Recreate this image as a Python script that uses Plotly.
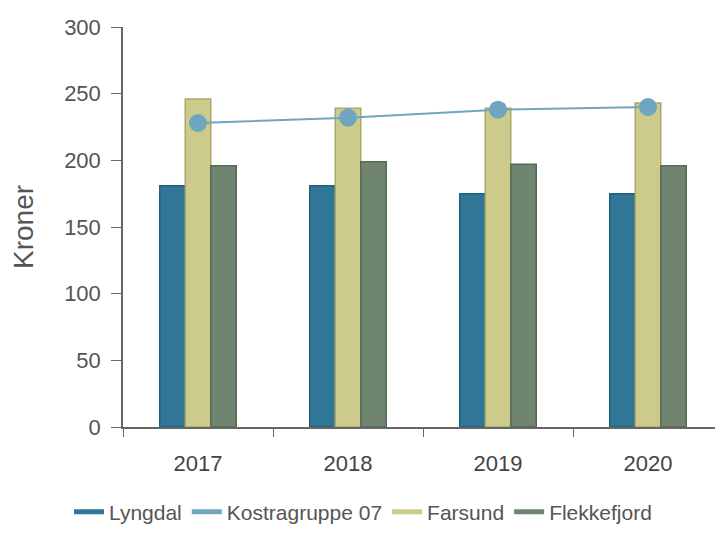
import plotly.graph_objects as go

years = ["2017", "2018", "2019", "2020"]
lyngdal = [181, 181, 175, 175]
farsund = [246, 239, 239, 243]
flekkefjord = [196, 199, 197, 196]
kostra = [228, 232, 238, 240]

c_lyng = "#2f7697"
c_kostra = "#6fa5c0"
c_fars = "#cccb8b"
c_flek = "#6f8570"

fig = go.Figure()
fig.add_trace(go.Bar(x=years, y=lyngdal, name="Lyngdal", marker=dict(color=c_lyng, line=dict(color="#23607d", width=1.5)), showlegend=False))
fig.add_trace(go.Bar(x=years, y=farsund, name="Farsund", marker=dict(color=c_fars, line=dict(color="#aaa868", width=1.5)), showlegend=False))
fig.add_trace(go.Bar(x=years, y=flekkefjord, name="Flekkefjord", marker=dict(color=c_flek, line=dict(color="#566a57", width=1.5)), showlegend=False))
fig.add_trace(go.Scatter(x=years, y=kostra, name="Kostragruppe 07", mode="lines+markers",
                         line=dict(color=c_kostra, width=2), marker=dict(color=c_kostra, size=18), showlegend=False))

for name, col in [("Lyngdal", c_lyng), ("Kostragruppe 07", c_kostra), ("Farsund", c_fars), ("Flekkefjord", c_flek)]:
    fig.add_trace(go.Scatter(x=[None], y=[None], mode="lines", name=name, line=dict(color=col, width=5), showlegend=True))

fig.update_layout(
    width=715, height=525,
    margin=dict(l=115, r=0, t=19, b=103),
    plot_bgcolor="white", paper_bgcolor="white",
    barmode="group", bargap=0.49, bargroupgap=0,
    font=dict(family="Liberation Sans, Arial, sans-serif", color="#555555", size=22),
    legend=dict(orientation="h", x=0.4, xanchor="center", y=-0.213, yanchor="middle",
                font=dict(size=21, color="#555555"), itemwidth=30, traceorder="normal"),
    xaxis=dict(showline=True, linecolor="#666666", linewidth=1.5, ticks="outside", tickson="boundaries",
               ticklen=8, tickcolor="#666666", tickfont=dict(size=22, color="#444444"),
               ticklabelstandoff=16),
    yaxis=dict(range=[0, 300], tickvals=[0, 50, 100, 150, 200, 250, 300], showgrid=False, zeroline=False,
               showline=True, linecolor="#666666", linewidth=1.5, ticks="outside", ticklen=10, tickcolor="#666666",
               tickfont=dict(size=22, color="#555555"), ticklabelstandoff=6,
               title=dict(text="Kroner", font=dict(size=28, color="#555555"), standoff=22)),
)

fig.write_html("out.html")
